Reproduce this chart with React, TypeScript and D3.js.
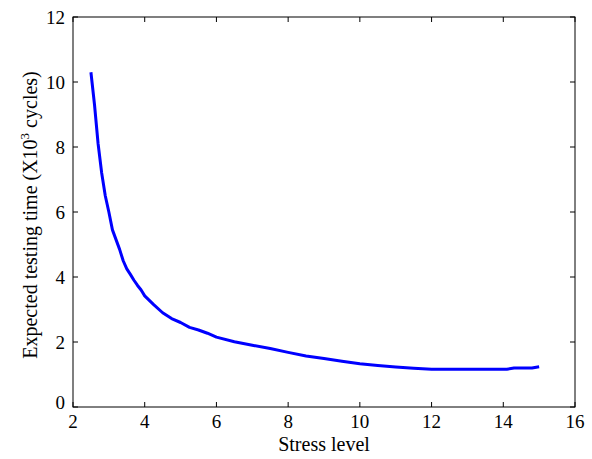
import React from "react";
import * as d3 from "d3";

const width = 592;
const height = 459;

// stress level vs expected testing time (x10^3 cycles)
const stress = [
  2.5, 2.6, 2.7, 2.8, 2.9, 3.0, 3.1, 3.2, 3.3, 3.4, 3.5, 3.6, 3.7, 3.8, 3.9, 4.0,
  4.25, 4.5, 4.75, 5.0, 5.25, 5.5, 5.75, 6.0, 6.5, 7.0, 7.5, 8.0, 8.5, 9.0, 9.5,
  10.0, 10.5, 11.0, 11.5, 12.0, 13.0, 14.1, 14.3, 14.8, 15.0,
];
const testTime = [
  10.3, 9.3, 8.1, 7.2, 6.5, 6.0, 5.45, 5.15, 4.85, 4.5, 4.25, 4.08, 3.9, 3.74, 3.6,
  3.42, 3.15, 2.9, 2.72, 2.6, 2.45, 2.37, 2.27, 2.15, 2.01, 1.9, 1.8, 1.68, 1.57,
  1.49, 1.41, 1.33, 1.28, 1.23, 1.19, 1.16, 1.16, 1.16, 1.2, 1.2, 1.24,
];
const xTicks = [2, 4, 6, 8, 10, 12, 14, 16];
const yTicks = [0, 2, 4, 6, 8, 10, 12];

const margin = { left: 73, right: 17, top: 17, bottom: 52 };
const font = "'Liberation Serif', 'Times New Roman', serif";

export default function App() {
  const x = d3.scaleLinear().domain([2, 16]).range([margin.left, width - margin.right]);
  const y = d3.scaleLinear().domain([0, 12]).range([height - margin.bottom, margin.top]);

  const line = d3
    .line<number>()
    .x((d, i) => x(stress[i]))
    .y((d) => y(d));

  const x0 = x(2);
  const x1 = x(16);
  const y0 = y(0);
  const y1 = y(12);
  const tick = 5;

  return (
    <svg
      width={width}
      height={height}
      style={{ position: "absolute", left: 0, top: 0, background: "#fff" }}
      fontFamily={font}
    >
      <rect x={0} y={0} width={width} height={height} fill="#fff" />
      <path d={line(testTime) || ""} fill="none" stroke="#0000ff" strokeWidth={3} strokeLinejoin="round" />

      <rect x={x0} y={y1} width={x1 - x0} height={y0 - y1} fill="none" stroke="#000" strokeWidth={1} />

      {xTicks.map((t) => (
        <g key={"x" + t}>
          <line x1={x(t)} x2={x(t)} y1={y0} y2={y0 - tick} stroke="#000" />
          <line x1={x(t)} x2={x(t)} y1={y1} y2={y1 + tick} stroke="#000" />
          <text x={x(t)} y={y0 + 21} textAnchor="middle" fontSize={19}>
            {t}
          </text>
        </g>
      ))}
      {yTicks.map((t) => (
        <g key={"y" + t}>
          <line x1={x0} x2={x0 + tick} y1={y(t)} y2={y(t)} stroke="#000" />
          <line x1={x1} x2={x1 - tick} y1={y(t)} y2={y(t)} stroke="#000" />
          <text x={x0 - 8} y={y(t) + (t === 0 ? 2 : 7)} textAnchor="end" fontSize={19}>
            {t}
          </text>
        </g>
      ))}

      <text x={(x0 + x1) / 2} y={451} textAnchor="middle" fontSize={20}>
        Stress level
      </text>
      <text transform={`translate(37, 215) rotate(-90)`} textAnchor="middle" fontSize={20}>
        Expected testing time (X10
        <tspan dy={-8} fontSize={13}>3</tspan>
        <tspan dy={8}> cycles)</tspan>
      </text>
    </svg>
  );
}
